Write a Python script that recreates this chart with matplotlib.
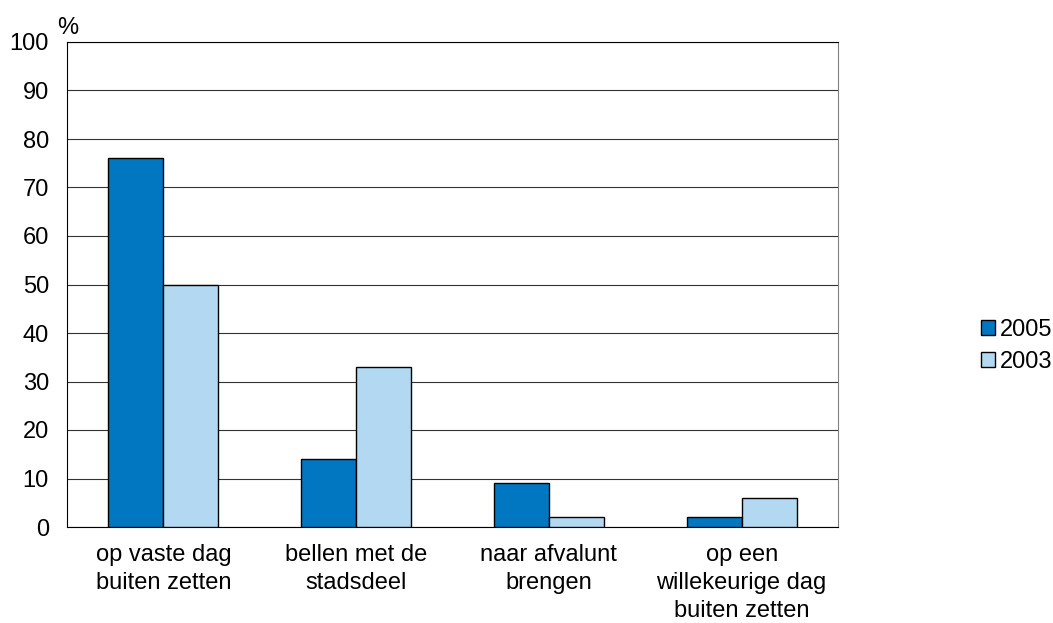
import matplotlib
matplotlib.use("Agg")
import matplotlib.pyplot as plt
import numpy as np

categories = ["op vaste dag\nbuiten zetten", "bellen met de\nstadsdeel", "naar afvalunt\nbrengen", "op een\nwillekeurige dag\nbuiten zetten"]
series_names = ["2005", "2003"]
values_2005 = [76, 14, 9, 2]
values_2003 = [50, 33, 2, 6]
yticks = list(range(0, 101, 10))

plt.rcParams['font.family'] = ['Liberation Sans', 'DejaVu Sans']

fig = plt.figure(figsize=(10.53, 6.23), dpi=100)
ax = fig.add_axes([67/1053, 1-527/623, (838-67)/1053, (527-42)/623])

x = np.arange(len(categories))
w = 0.285
ax.bar(x - w/2, values_2005, w, color="#0077C0", edgecolor="black", linewidth=1, label=series_names[0], zorder=3)
ax.bar(x + w/2, values_2003, w, color="#B3D9F2", edgecolor="black", linewidth=1, label=series_names[1], zorder=3)

fs = 17
ax.set_xlim(-0.5, len(categories) - 0.5)
ax.set_ylim(0, 100)
ax.set_yticks(yticks)
ax.set_xticks(x)
ax.set_xticklabels(categories, fontsize=fs, linespacing=1.36)
ax.tick_params(axis='y', labelsize=fs, length=0, pad=13)
ax.tick_params(axis='x', length=0, pad=12)
ax.yaxis.grid(True, color="#333333", linewidth=0.8, zorder=0)
for s in ["top", "left", "bottom"]:
    ax.spines[s].set_color("black")
ax.spines["right"].set_color("#808080")
ax.text(-0.013, 1.006, "%", transform=ax.transAxes, fontsize=fs, ha="left", va="bottom")

leg = fig.legend(loc="center left", bbox_to_anchor=(981/1053, 1-346/623), frameon=False, borderpad=0,
                 borderaxespad=0, fontsize=fs, handlelength=0.6, handleheight=0.6, handletextpad=0.2,
                 labelspacing=0.45)

fig.savefig("out.png", dpi=100)
